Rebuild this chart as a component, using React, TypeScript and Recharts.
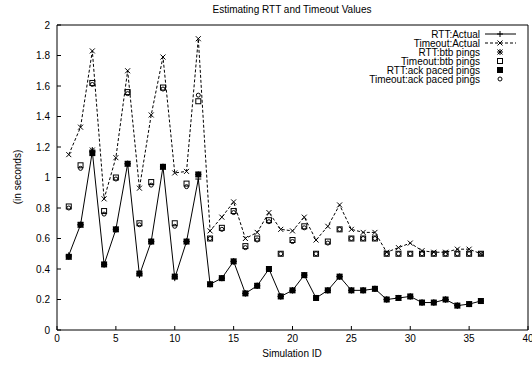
import React from "react";
import { LineChart, Line, XAxis, YAxis } from "recharts";

const simIds = [1, 2, 3, 4, 5, 6, 7, 8, 9, 10, 11, 12, 13, 14, 15, 16, 17, 18, 19, 20, 21, 22, 23, 24, 25, 26, 27, 28, 29, 30, 31, 32, 33, 34, 35, 36];

const rttActual = [0.49, 0.69, 1.17, 0.43, 0.66, 1.09, 0.36, 0.58, 1.07, 0.34, 0.58, 0.99, 0.30, 0.34, 0.45, 0.24, 0.29, 0.40, 0.22, 0.26, 0.36, 0.21, 0.26, 0.35, 0.26, 0.26, 0.27, 0.20, 0.21, 0.22, 0.18, 0.18, 0.20, 0.16, 0.17, 0.19];
const timeoutActual = [1.15, 1.33, 1.83, 0.86, 1.13, 1.70, 0.93, 1.41, 1.79, 1.03, 1.04, 1.91, 0.65, 0.74, 0.84, 0.60, 0.64, 0.77, 0.66, 0.65, 0.74, 0.59, 0.68, 0.82, 0.66, 0.64, 0.64, 0.51, 0.54, 0.57, 0.52, 0.51, 0.51, 0.53, 0.53, 0.50];
const rttBtb = [0.48, 0.69, 1.18, 0.43, 0.66, 1.09, 0.37, 0.58, 1.07, 0.35, 0.58, 1.02, 0.30, 0.34, 0.45, 0.24, 0.29, 0.40, 0.22, 0.26, 0.36, 0.21, 0.26, 0.35, 0.26, 0.26, 0.27, 0.20, 0.21, 0.22, 0.18, 0.18, 0.20, 0.16, 0.17, 0.19];
const timeoutBtb = [0.81, 1.08, 1.62, 0.78, 1.00, 1.56, 0.70, 0.97, 1.59, 0.70, 0.96, 1.50, 0.60, 0.67, 0.78, 0.55, 0.60, 0.72, 0.50, 0.59, 0.68, 0.50, 0.58, 0.66, 0.60, 0.60, 0.60, 0.50, 0.50, 0.50, 0.50, 0.50, 0.50, 0.50, 0.50, 0.50];
const rttAck = [0.48, 0.69, 1.16, 0.43, 0.66, 1.09, 0.37, 0.58, 1.07, 0.35, 0.58, 1.02, 0.30, 0.34, 0.45, 0.24, 0.29, 0.40, 0.22, 0.26, 0.36, 0.21, 0.26, 0.35, 0.26, 0.26, 0.27, 0.20, 0.21, 0.22, 0.18, 0.18, 0.20, 0.16, 0.17, 0.19];
const timeoutAck = [0.80, 1.06, 1.61, 0.76, 0.99, 1.55, 0.69, 0.95, 1.58, 0.68, 0.94, 1.54, 0.60, 0.66, 0.77, 0.54, 0.59, 0.71, 0.50, 0.58, 0.67, 0.50, 0.57, 0.66, 0.60, 0.60, 0.60, 0.50, 0.50, 0.50, 0.50, 0.50, 0.50, 0.50, 0.50, 0.50];

const xTicks = [0, 5, 10, 15, 20, 25, 30, 35, 40];
const yTicks = [0, 0.2, 0.4, 0.6, 0.8, 1, 1.2, 1.4, 1.6, 1.8, 2];

const data = simIds.map((id, i) => ({
  id,
  rttActual: rttActual[i],
  timeoutActual: timeoutActual[i],
  rttBtb: rttBtb[i],
  timeoutBtb: timeoutBtb[i],
  rttAck: rttAck[i],
  timeoutAck: timeoutAck[i],
}));

const FONT = '"Liberation Sans", Arial, sans-serif';

// gnuplot style point markers
const Plus = ({ cx, cy, s = 3 }: any) => (
  <g stroke="#000" strokeWidth={1}>
    <line x1={cx - s} y1={cy} x2={cx + s} y2={cy} />
    <line x1={cx} y1={cy - s} x2={cx} y2={cy + s} />
  </g>
);
const Cross = ({ cx, cy, s = 2.5 }: any) => (
  <g stroke="#000" strokeWidth={1}>
    <line x1={cx - s} y1={cy - s} x2={cx + s} y2={cy + s} />
    <line x1={cx - s} y1={cy + s} x2={cx + s} y2={cy - s} />
  </g>
);
const Star = ({ cx, cy }: any) => (
  <g>
    <Plus cx={cx} cy={cy} s={3} />
    <Cross cx={cx} cy={cy} s={2.5} />
  </g>
);
const OpenSquare = ({ cx, cy }: any) => (
  <rect x={cx - 2.5} y={cy - 2.5} width={5} height={5} fill="none" stroke="#000" strokeWidth={1} />
);
const FilledSquare = ({ cx, cy }: any) => (
  <rect x={cx - 3} y={cy - 3} width={6} height={6} fill="#000" />
);
const Circle = ({ cx, cy }: any) => (
  <circle cx={cx} cy={cy} r={2} fill="none" stroke="#000" strokeWidth={1} />
);

const dotOf = (M: any) => (p: any) => <M key={p.index} cx={p.cx} cy={p.cy} />;

const legendRows = [
  { name: "RTT:Actual", line: "solid", M: Plus },
  { name: "Timeout:Actual", line: "dashed", M: Cross },
  { name: "RTT:btb pings", line: null, M: Star },
  { name: "Timeout:btb pings", line: null, M: OpenSquare },
  { name: "RTT:ack paced pings", line: null, M: FilledSquare },
  { name: "Timeout:ack paced pings", line: null, M: Circle },
];

const GnuLegend = () => (
  <svg width={225} height={60} style={{ display: "block" }}>
    {legendRows.map((r, i) => {
      const y = 5 + i * 9;
      return (
        <g key={r.name}>
          <text x={180} y={y} dy="0.35em" textAnchor="end" fontSize={10} fontFamily={FONT} fill="#000">
            {r.name}
          </text>
          {r.line && (
            <line x1={185} y1={y} x2={216} y2={y} stroke="#000" strokeWidth={1} strokeDasharray={r.line === "dashed" ? "3 2" : undefined} />
          )}
          <r.M cx={200} cy={y} />
        </g>
      );
    })}
  </svg>
);

export default function App() {
  const tickStyle = { fill: "#000", fontSize: 10, fontFamily: FONT };
  return (
    <div style={{ position: "relative", width: 532, height: 366, background: "#fff", fontFamily: FONT }}>
      <style>{"body{margin:0}"}</style>
      <div style={{ position: "absolute", left: 0, width: 584, top: 4, textAlign: "center", fontSize: 10, lineHeight: "12px" }}>
        Estimating RTT and Timeout Values
      </div>
      <div style={{ position: "absolute", left: 0, width: 584, top: 348, textAlign: "center", fontSize: 10, lineHeight: "12px" }}>
        Simulation ID
      </div>
      <div
        style={{
          position: "absolute",
          left: 18,
          top: 177,
          fontSize: 10,
          lineHeight: "12px",
          whiteSpace: "nowrap",
          transform: "translate(-50%, -50%) rotate(-90deg)",
        }}
      >
        (in seconds)
      </div>
      <LineChart width={532} height={366} data={data} margin={{ top: 24, right: 3, bottom: 6, left: 7 }}>
        <XAxis
          xAxisId="b"
          dataKey="id"
          type="number"
          domain={[0, 40]}
          ticks={xTicks}
          interval={0}
          height={30}
          tickSize={-4}
          tickMargin={9}
          axisLine={{ stroke: "#000" }}
          tickLine={{ stroke: "#000" }}
          tick={tickStyle}
        />
        <XAxis
          xAxisId="t"
          dataKey="id"
          type="number"
          orientation="top"
          domain={[0, 40]}
          ticks={xTicks}
          interval={0}
          height={1}
          tickSize={-4}
          axisLine={{ stroke: "#000" }}
          tickLine={{ stroke: "#000" }}
          tick={false}
        />
        <YAxis
          yAxisId="l"
          type="number"
          domain={[0, 2]}
          ticks={yTicks}
          interval={0}
          width={50}
          tickSize={-4}
          tickMargin={11}
          axisLine={{ stroke: "#000" }}
          tickLine={{ stroke: "#000" }}
          tick={tickStyle}
        />
        <YAxis
          yAxisId="r"
          orientation="right"
          type="number"
          domain={[0, 2]}
          ticks={yTicks}
          interval={0}
          width={1}
          tickSize={-4}
          axisLine={{ stroke: "#000" }}
          tickLine={{ stroke: "#000" }}
          tick={false}
        />
        <Line xAxisId="b" yAxisId="l" dataKey="timeoutActual" name="Timeout:Actual" stroke="#000" strokeWidth={1} strokeDasharray="3 2" dot={dotOf(Cross)} activeDot={false} isAnimationActive={false} />
        <Line xAxisId="b" yAxisId="l" dataKey="rttActual" name="RTT:Actual" stroke="#000" strokeWidth={1} dot={dotOf(Plus)} activeDot={false} isAnimationActive={false} />
        <Line xAxisId="b" yAxisId="l" dataKey="timeoutBtb" name="Timeout:btb pings" stroke="none" dot={dotOf(OpenSquare)} activeDot={false} isAnimationActive={false} />
        <Line xAxisId="b" yAxisId="l" dataKey="timeoutAck" name="Timeout:ack paced pings" stroke="none" dot={dotOf(Circle)} activeDot={false} isAnimationActive={false} />
        <Line xAxisId="b" yAxisId="l" dataKey="rttBtb" name="RTT:btb pings" stroke="none" dot={dotOf(Star)} activeDot={false} isAnimationActive={false} />
        <Line xAxisId="b" yAxisId="l" dataKey="rttAck" name="RTT:ack paced pings" stroke="none" dot={dotOf(FilledSquare)} activeDot={false} isAnimationActive={false} />
      </LineChart>
      <div style={{ position: "absolute", left: 300, top: 29, width: 225 }}>
        <GnuLegend />
      </div>
    </div>
  );
}
